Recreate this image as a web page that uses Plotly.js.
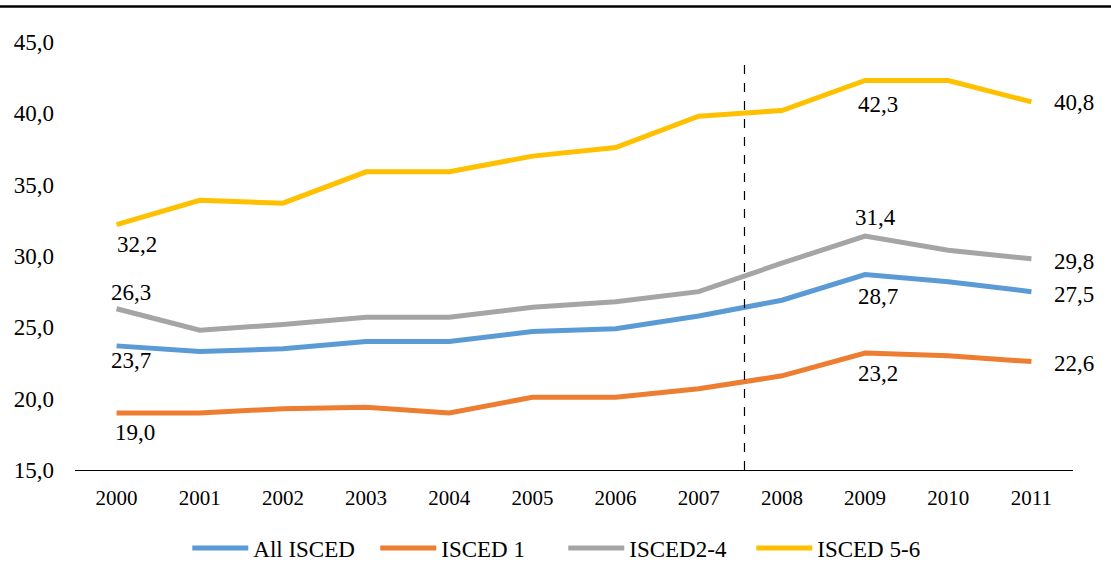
<!DOCTYPE html>
<html>
<head>
<meta charset="utf-8">
<script src="https://cdn.plot.ly/plotly-3.0.1.min.js"></script>
<style>html,body{margin:0;padding:0;background:#fff;}#chart{width:1111px;height:568px;}</style>
</head>
<body>
<div id="chart"></div>
<script>
const years = ['2000','2001','2002','2003','2004','2005','2006','2007','2008','2009','2010','2011'];
const allIsced = [23.7, 23.3, 23.5, 24.0, 24.0, 24.7, 24.9, 25.8, 26.9, 28.7, 28.2, 27.5];
const isced1   = [19.0, 19.0, 19.3, 19.4, 19.0, 20.1, 20.1, 20.7, 21.6, 23.2, 23.0, 22.6];
const isced24  = [26.3, 24.8, 25.2, 25.7, 25.7, 26.4, 26.8, 27.5, 29.5, 31.4, 30.4, 29.8];
const isced56  = [32.2, 33.9, 33.7, 35.9, 35.9, 37.0, 37.6, 39.8, 40.2, 42.3, 42.3, 40.8];
const seriesNames = ['All ISCED', 'ISCED 1', 'ISCED2-4', 'ISCED 5-6'];
const labelledYears = ['2000', '2009', '2011'];
const yTicks = [15, 20, 25, 30, 35, 40, 45];

const colors = ['#5B9BD5', '#ED7D31', '#A5A5A5', '#FFC000'];
const font = 'Liberation Serif';

function fmt(v){ return v.toFixed(1).replace('.', ','); }

const seriesVals = [allIsced, isced1, isced24, isced56];
// label offsets per series for [2000, 2009, 2011] as [xshift, yshift]
const labelOffsets = [
  [[14,-15],[13,-22],[21,-3]],
  [[18,-20],[13,-20],[21,-2]],
  [[14,16],[10,19],[21,-3]],
  [[20,-20],[13,-24],[21,-1]]
];

const data = seriesVals.map((vals, s) => ({
  x: years, y: vals, name: seriesNames[s], type: 'scatter', mode: 'lines',
  line: {color: colors[s], width: 5}, hoverinfo: 'skip'
}));

const annotations = [];
seriesVals.forEach((vals, s) => {
  labelledYears.forEach((yr, k) => {
    const i = years.indexOf(yr);
    const last = (k === labelledYears.length - 1);
    annotations.push({
      x: i, y: vals[i], xref: 'x', yref: 'y', text: fmt(vals[i]), showarrow: false,
      xanchor: last ? 'left' : 'center', yanchor: 'middle',
      xshift: labelOffsets[s][k][0], yshift: labelOffsets[s][k][1],
      font: {family: font, size: 23, color: '#000'}
    });
  });
});

const layout = {
  width: 1111, height: 568,
  margin: {l: 75, r: 38, t: 42, b: 98},
  paper_bgcolor: '#fff', plot_bgcolor: '#fff',
  separators: ',.',
  font: {family: font, size: 21, color: '#000'},
  showlegend: true,
  legend: {orientation: 'h', x: 0.507, xanchor: 'center', xref: 'container',
           y: 0.035, yanchor: 'middle', yref: 'container',
           font: {family: font, size: 23, color: '#000'}, itemwidth: 56, tracegroupgap: 0,
           entrywidth: 117, entrywidthmode: 'pixels'},
  xaxis: {type: 'category', range: [-0.5, 11.5], showgrid: false, zeroline: false, showline: true,
          linecolor: '#000', linewidth: 1.2, ticks: '', ticklabelstandoff: 9,
          tickfont: {family: font, size: 21, color: '#000'}, fixedrange: true},
  yaxis: {range: [15, 45], tickvals: yTicks, ticktext: yTicks.map(fmt),
          showgrid: false, zeroline: false, showline: false, ticks: '',
          ticklabelstandoff: 20,
          tickfont: {family: font, size: 23, color: '#000'}, fixedrange: true},
  annotations: annotations,
  shapes: [
    {type: 'line', xref: 'x', yref: 'y', x0: 7.55, x1: 7.55, y0: 15, y1: 43.6,
     line: {color: '#000', width: 1.2, dash: 'dash'}},
    {type: 'line', xref: 'paper', yref: 'paper', x0: -0.08, x1: 1.05, y0: 1.083, y1: 1.083,
     line: {color: '#000', width: 2.5}}
  ]
};

Plotly.newPlot('chart', data, layout, {displayModeBar: false, staticPlot: true});
</script>
</body>
</html>
